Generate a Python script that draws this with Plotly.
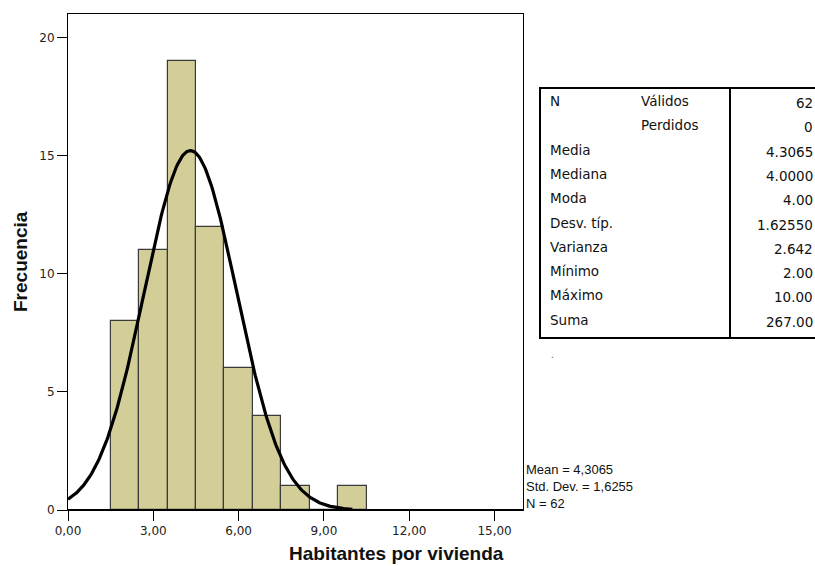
import numpy as np
import plotly.graph_objects as go

# Data
bin_centers = [2, 3, 4, 5, 6, 7, 8, 9, 10]
counts = [8, 11, 19, 12, 6, 4, 1, 0, 1]
mean_val = 4.3065
sd_val = 1.6255
n_val = 62
x_ticks = [0, 3, 6, 9, 12, 15]
x_tick_labels = ["0,00", "3,00", "6,00", "9,00", "12,00", "15,00"]
y_ticks = [0, 5, 10, 15, 20]
stat_labels = ["N", "", "Media", "Mediana", "Moda", "Desv. típ.", "Varianza", "Mínimo", "Máximo", "Suma"]
stat_sub = ["Válidos", "Perdidos", "", "", "", "", "", "", "", ""]
stat_values = ["62", "0", "4.3065", "4.0000", "4.00", "1.62550", "2.642", "2.00", "10.00", "267.00"]

W, H = 815, 566
L, R, T, B = 68, 523, 14, 510

def px(x):
    return (x - L) / (R - L)

def py(y):
    return (B - y) / (B - T)

# normal curve fitted from mean, sd, N (bin width 1)
xc = np.linspace(0, 10.0, 300)
yc = n_val * np.exp(-0.5 * ((xc - mean_val) / sd_val) ** 2) / (sd_val * np.sqrt(2 * np.pi))

fig = go.Figure()
fig.add_trace(go.Bar(x=bin_centers, y=counts, width=1,
                     marker=dict(color="#D3CE98", line=dict(color="#3a3a3a", width=1.2)),
                     hoverinfo="skip"))
fig.add_trace(go.Scatter(x=xc, y=yc, mode="lines", line=dict(color="black", width=3.2),
                         hoverinfo="skip"))

tickfont = dict(family="DejaVu Sans, sans-serif", size=12, color="#222")
fig.update_layout(
    width=W, height=H,
    margin=dict(l=L, r=W - R, t=T, b=H - B),
    plot_bgcolor="white", paper_bgcolor="white",
    showlegend=False, bargap=0,
    font=dict(family="Liberation Sans, Arial, sans-serif", color="#222", size=12),
)
fig.update_xaxes(range=[0, 16], tickvals=x_ticks, ticktext=x_tick_labels,
                 ticks="outside", ticklen=10, tickcolor="black", tickwidth=1,
                 showline=True, linecolor="black", linewidth=1, mirror=True,
                 showgrid=False, zeroline=False, tickfont=tickfont)
fig.update_yaxes(range=[0, 21], tickvals=y_ticks, ticktext=[str(v) for v in y_ticks],
                 ticks="outside", ticklen=10, tickcolor="black", tickwidth=1,
                 showline=True, linecolor="black", linewidth=1, mirror=True,
                 showgrid=False, zeroline=False, tickfont=tickfont)

# thicker bottom axis line
fig.add_shape(type="line", xref="paper", yref="paper", x0=0, x1=1, y0=0, y1=0,
              line=dict(color="black", width=2))

# axis titles
fig.add_annotation(text="<b>Frecuencia</b>", xref="paper", yref="paper",
                   x=px(20), y=py(262), textangle=-90, showarrow=False,
                   font=dict(size=19, color="#111"), xanchor="center", yanchor="middle")
fig.add_annotation(text="<b>Habitantes por vivienda</b>", xref="paper", yref="paper",
                   x=px(396), y=py(553), showarrow=False,
                   font=dict(size=19, color="#111"), xanchor="center", yanchor="middle")

# stats text
fig.add_annotation(text="Mean = 4,3065<br>Std. Dev. = 1,6255<br>N = 62",
                   xref="paper", yref="paper", x=px(524), y=py(486), showarrow=False,
                   xanchor="left", yanchor="middle", align="left",
                   font=dict(size=13, color="#111"))

# table
tfont = dict(family="DejaVu Sans, sans-serif", size=13.5, color="#111")
tx0, tx1, ty0, ty1 = 540, 840, 88, 338
fig.add_shape(type="rect", xref="paper", yref="paper", x0=px(tx0), x1=px(tx1),
              y0=py(ty1), y1=py(ty0), line=dict(color="black", width=2))
fig.add_shape(type="line", xref="paper", yref="paper", x0=px(730), x1=px(730),
              y0=py(ty1), y1=py(ty0), line=dict(color="black", width=2))
row_y0, row_dy = 101, 24.3
for i in range(len(stat_labels)):
    yy = row_y0 + i * row_dy
    if stat_labels[i]:
        fig.add_annotation(text=stat_labels[i], xref="paper", yref="paper",
                           x=px(548), y=py(yy), showarrow=False, xanchor="left",
                           yanchor="middle", font=tfont)
    if stat_sub[i]:
        fig.add_annotation(text=stat_sub[i], xref="paper", yref="paper",
                           x=px(639), y=py(yy), showarrow=False, xanchor="left",
                           yanchor="middle", font=tfont)
    fig.add_annotation(text=stat_values[i], xref="paper", yref="paper",
                       x=px(815), y=py(yy + 2), showarrow=False, xanchor="right",
                       yanchor="middle", font=tfont)

fig.add_annotation(text=".", xref="paper", yref="paper", x=px(549), y=py(354),
                   showarrow=False, xanchor="left", yanchor="middle",
                   font=dict(size=10, color="#555"))

fig.write_html("out.html", config={"displayModeBar": False},
               post_script="document.body.style.margin='0';document.body.style.overflow='hidden';")
